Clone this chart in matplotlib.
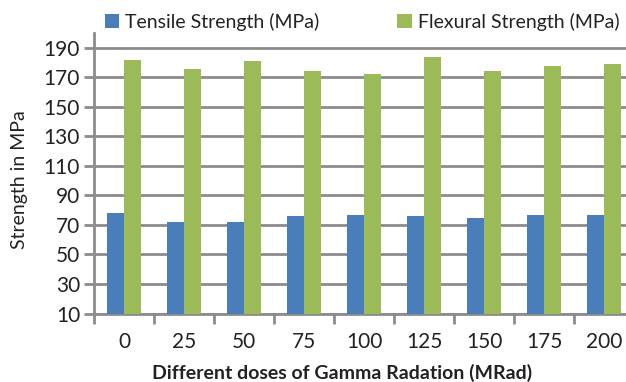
import matplotlib.pyplot as plt
import numpy as np

# Strength of samples after gamma irradiation
DOSES = ["0", "25", "50", "75", "100", "125", "150", "175", "200"]
TENSILE = [78, 72, 72, 76, 77, 76, 75, 77, 77]
FLEXURAL = [181.5, 175.5, 180.8, 174, 172, 183.5, 174, 177.5, 178.7]

BLUE = "#4a7ebb"
GREEN = "#9bbb59"
GRID = "#8c8c8c"

plt.rcParams['font.family'] = ['Lato', 'DejaVu Sans']

fig = plt.figure(figsize=(6.26, 3.82), dpi=100)
W, H = 626, 382
# plot area runs slightly past the right edge of the canvas
left, right, top, bottom = 94, 634, 33, 313.5
ax = fig.add_axes([left / W, 1 - bottom / H, (right - left) / W, (bottom - top) / H])

x = np.arange(len(DOSES))
bw = 0.285
ax.bar(x - bw / 2, TENSILE, bw, color=BLUE, label="Tensile Strength (MPa)", zorder=3)
ax.bar(x + bw / 2, FLEXURAL, bw, color=GREEN, label="Flexural Strength (MPa)", zorder=3)

ax.set_xlim(-0.5, len(DOSES) - 0.5)
ax.set_ylim(10, 200)
ax.set_yticks(np.arange(10, 191, 20))
ax.set_xticks(x)
ax.set_xticklabels(DOSES)
ax.set_xticks(np.arange(-0.5, len(DOSES), 1), minor=True)

ax.grid(axis='y', color=GRID, linewidth=2, zorder=0)
for s in ['top', 'right']:
    ax.spines[s].set_visible(False)
for s in ['left', 'bottom']:
    ax.spines[s].set_color(GRID)
    ax.spines[s].set_linewidth(2)

ax.tick_params(axis='x', which='major', length=0, pad=13, labelsize=15, colors='#222222')
ax.tick_params(axis='x', which='minor', length=7, width=2, color=GRID)
ax.tick_params(axis='y', length=7, width=2, color=GRID, labelsize=15, labelcolor='#222222', pad=3)

fig.text(20 / W, 1 - 180 / H, "Strength in MPa", rotation=90, ha='center', va='center',
         fontsize=14, color='#222222')
fig.text(342 / W, 1 - 373 / H, "Different doses of Gamma Radation (MRad)", ha='center', va='center',
         fontsize=14, fontweight='bold', color='#222222')

ax.legend(loc='center', bbox_to_anchor=(362 / W, 1 - 22 / H), bbox_transform=fig.transFigure,
          ncol=2, frameon=False, fontsize=14, handlelength=0.75, handleheight=0.75,
          handletextpad=0.3, columnspacing=4.0, labelcolor='#222222')

fig.savefig("out.png", dpi=100, facecolor='white')
